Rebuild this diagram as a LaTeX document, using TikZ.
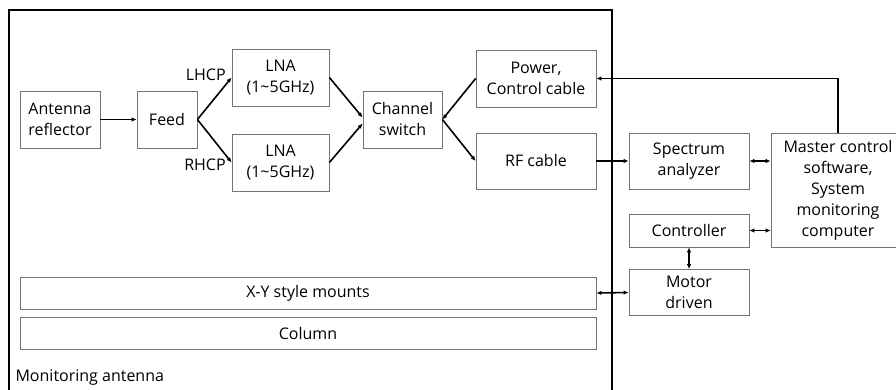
\documentclass[tikz,border=0pt]{standalone}
\usepackage{fontspec}
\setmainfont{Open Sans}
\usepackage{tikz}
\usetikzlibrary{arrows.meta}

\begin{document}
\begin{tikzpicture}[x=1pt,y=-1pt,font=\fontsize{16}{21}\selectfont,
  blk/.style n args={2}{draw=black!55,line width=0.8pt,rectangle,align=center,inner sep=0pt,minimum width=#1pt,minimum height=#2pt},
  conn/.style={line width=1.6pt,-{Latex[length=5pt,width=4.5pt]}},
  bconn/.style={line width=1.6pt,{Latex[length=5pt,width=4.5pt]}-{Latex[length=5pt,width=4.5pt]}}]
\clip (0,0) rectangle (896,390);
\draw[line width=2.2pt] (9,400) -- (9,10) -- (612,10) -- (612,400);
\node[anchor=west] (mon) at (12,378) {Monitoring antenna};
\node[blk={80}{57}] (refl) at (60,119.5) {Antenna\\reflector};
\node[blk={60}{57}] (feed) at (167,119.5) {Feed};
\foreach \n/\y in {lnaA/77.5,lnaB/162.5}
  \node[blk={97}{57}] (\n) at (280.5,\y) {LNA\\(1\textasciitilde5GHz)};
\node[blk={79}{57}] (chsw) at (402.5,119.5) {Channel\\switch};
\node[blk={120}{57}] (pwr) at (536,78.5) {Power,\\Control cable};
\node[blk={120}{56}] (rf) at (536,161) {RF cable};
\node[blk={120}{56}] (spec) at (689,161) {Spectrum\\analyzer};
\node[blk={120}{33}] (ctrl) at (689,230.5) {Controller};
\node[blk={120}{46}] (motor) at (689,292.5) {Motor\\driven};
\node[blk={134}{114}] (mstr) at (838,190) {Master control\\software,\\System\\monitoring\\computer};
\node[blk={576}{32}] (xy) at (308,293) {X-Y style mounts};
\node[blk={576}{32}] (col) at (308,333) {Column};
\draw[conn] (refl) -- (feed);
\draw[conn] (feed.east) -- (lnaA.west) node[pos=0.88,anchor=south east,inner sep=1pt] (lhcp) {LHCP};
\draw[conn] (feed.east) -- (lnaB.west) node[pos=0.88,anchor=north east,inner sep=1pt] (rhcp) {RHCP};
\draw[conn] (lnaA.east) -- ([yshift=2pt]chsw.west);
\draw[conn] (lnaB.east) -- ([yshift=-4pt]chsw.west);
\draw[conn] (pwr.west) -- (chsw.east);
\draw[conn] (chsw.east) -- (rf.west);
\draw[conn] (rf) -- (spec);
\draw[bconn] (spec) -- (spec -| mstr.west);
\draw[bconn] (ctrl) -- (ctrl -| mstr.west);
\draw[bconn] (ctrl) -- (motor);
\draw[bconn] (xy.east) -- (motor.west);
\draw[conn] (mstr.north) |- (pwr.east);
\end{tikzpicture}
\end{document}
